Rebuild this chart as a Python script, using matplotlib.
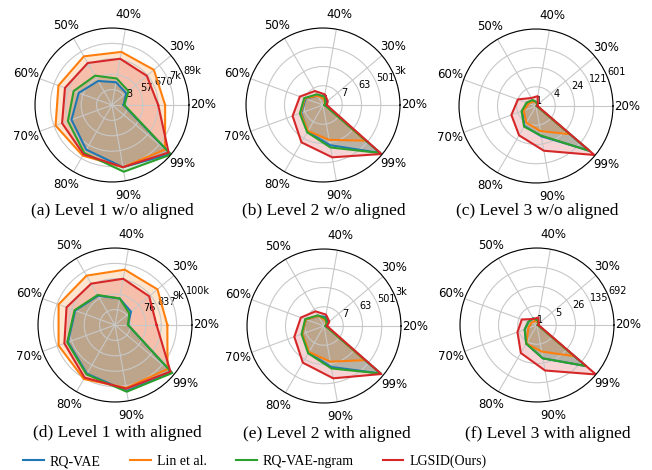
import matplotlib
matplotlib.use('Agg')
import matplotlib.pyplot as plt
import numpy as np
from matplotlib.lines import Line2D

# ── Colors / names ─────────────────────────────────────────────────────────
COLORS = ['#1f77b4', '#ff7f0e', '#2ca02c', '#d62728']
methods = ['RQ-VAE', 'Lin et al.', 'RQ-VAE-ngram', 'LGSID(Ours)']
percentiles = ['20%', '30%', '40%', '50%', '60%', '70%', '80%', '90%', '99%']

# radial values (log scale, fraction of the outer ring), one per percentile
# (a) Level 1 w/o aligned
a_rqvae = [0.15, 0.24, 0.30, 0.36, 0.46, 0.56, 0.67, 0.82, 0.99]
a_lin   = [0.69, 0.71, 0.70, 0.73, 0.74, 0.78, 0.76, 0.82, 0.90]
a_ngram = [0.16, 0.28, 0.35, 0.44, 0.53, 0.61, 0.72, 0.88, 1.00]
a_lgsid = [0.60, 0.59, 0.61, 0.63, 0.65, 0.69, 0.74, 0.82, 0.96]
# (b) Level 2 w/o aligned
b_rqvae = [0.02, 0.05, 0.12, 0.14, 0.24, 0.30, 0.40, 0.53, 0.97]
b_lin   = [0.02, 0.03, 0.08, 0.14, 0.25, 0.31, 0.39, 0.46, 0.72]
b_ngram = [0.02, 0.04, 0.11, 0.16, 0.26, 0.32, 0.41, 0.56, 0.97]
b_lgsid = [0.05, 0.08, 0.14, 0.21, 0.32, 0.42, 0.56, 0.69, 0.99]
# (c) Level 3 w/o aligned
c_rqvae = [0.01, 0.02, 0.05, 0.08, 0.12, 0.19, 0.30, 0.40, 0.90]
c_lin   = [0.01, 0.02, 0.04, 0.07, 0.10, 0.17, 0.25, 0.33, 0.57]
c_ngram = [0.01, 0.02, 0.05, 0.09, 0.13, 0.20, 0.31, 0.39, 0.91]
c_lgsid = [0.02, 0.03, 0.13, 0.12, 0.25, 0.34, 0.44, 0.59, 0.99]
# (d) Level 1 with aligned
d_rqvae = [0.17, 0.27, 0.35, 0.44, 0.55, 0.65, 0.73, 0.87, 0.96]
d_lin   = [0.68, 0.72, 0.73, 0.74, 0.78, 0.78, 0.81, 0.83, 0.89]
d_ngram = [0.17, 0.24, 0.35, 0.45, 0.56, 0.66, 0.74, 0.88, 0.97]
d_lgsid = [0.54, 0.58, 0.61, 0.62, 0.67, 0.70, 0.79, 0.84, 0.94]
# (e) Level 2 with aligned
e_rqvae = [0.02, 0.05, 0.12, 0.15, 0.25, 0.30, 0.40, 0.54, 0.96]
e_lin   = [0.02, 0.04, 0.08, 0.15, 0.25, 0.30, 0.39, 0.47, 0.69]
e_ngram = [0.02, 0.05, 0.10, 0.16, 0.26, 0.31, 0.41, 0.56, 0.96]
e_lgsid = [0.04, 0.09, 0.15, 0.22, 0.32, 0.41, 0.55, 0.69, 0.97]
# (f) Level 3 with aligned
f_rqvae = [0.01, 0.02, 0.06, 0.10, 0.12, 0.17, 0.28, 0.44, 0.83]
f_lin   = [0.01, 0.02, 0.04, 0.06, 0.08, 0.12, 0.28, 0.35, 0.63]
f_ngram = [0.01, 0.02, 0.06, 0.10, 0.12, 0.17, 0.28, 0.44, 0.83]
f_lgsid = [0.02, 0.03, 0.10, 0.09, 0.21, 0.27, 0.42, 0.60, 1.00]

panel_data = [
    [a_rqvae, a_lin, a_ngram, a_lgsid],
    [b_rqvae, b_lin, b_ngram, b_lgsid],
    [c_rqvae, c_lin, c_ngram, c_lgsid],
    [d_rqvae, d_lin, d_ngram, d_lgsid],
    [e_rqvae, e_lin, e_ngram, e_lgsid],
    [f_rqvae, f_lin, f_ngram, f_lgsid],
]

# radial tick labels per panel
rlabels = [
    ['3', '57', '670', '7k', '89k'],
    ['1', '7', '63', '501', '3k'],
    ['1', '4', '24', '121', '601'],
    ['', '76', '837', '9k', '100k'],
    ['1', '7', '63', '501', '3k'],
    ['1', '5', '26', '135', '692'],
]
captions = ['(a) Level 1 w/o aligned', '(b) Level 2 w/o aligned',
            '(c) Level 3 w/o aligned', '(d) Level 1 with aligned',
            '(e) Level 2 with aligned', '(f) Level 3 with aligned']

W, H = 652, 470
fig = plt.figure(figsize=(W / 100, H / 100), dpi=100)

R = 77
centers = [(112, 105), (323, 105), (536, 106),
           (115, 325), (324, 326), (537, 325)]
cap_pos = [(112, 211), (324, 211), (537, 211),
           (117, 433), (327, 434), (548, 434)]

angles = np.deg2rad(np.arange(0, 360, 40))
closed = np.append(angles, angles[0])

for i, (cx, cy) in enumerate(centers):
    ax = fig.add_axes([(cx - R) / W, (H - cy - R) / H, 2 * R / W, 2 * R / H],
                      projection='polar')
    for vals, col in zip(panel_data[i], COLORS):
        v = np.append(vals, vals[0])
        ax.fill(closed, v, color=col, alpha=0.2, lw=0)
        ax.plot(closed, v, color=col, lw=1.5)
    ax.set_ylim(0, 1)
    if i in (0, 3):
        ax.set_yticks([0.2, 0.4, 0.6, 0.8, 1.0])
    else:
        ax.set_yticks([0, 0.25, 0.5, 0.75, 1.0])
    ax.set_yticklabels(rlabels[i], fontsize=7)
    ax.set_xticks(angles)
    ax.set_xticklabels(percentiles, fontsize=8.5)
    ax.tick_params(axis='x', pad=0)
    ax.grid(color='#c8c8c8', lw=0.8)
    ax.spines['polar'].set_color('black')
    ax.spines['polar'].set_linewidth(0.8)
    fig.text(cap_pos[i][0] / W, 1 - cap_pos[i][1] / H, captions[i],
             ha='center', va='center', fontsize=12.5, family='Liberation Serif')

handles = [Line2D([], [], color=c, lw=1.5) for c in COLORS]
fig.legend(handles, methods, loc='center left', bbox_to_anchor=(23 / W, 8.5 / H),
           ncol=4, frameon=False, prop={'family': 'Liberation Serif', 'size': 10},
           handlelength=1.5, handletextpad=0.43, columnspacing=2.1,
           borderpad=0, borderaxespad=0)

plt.savefig('out.png', dpi=100)
plt.close()
